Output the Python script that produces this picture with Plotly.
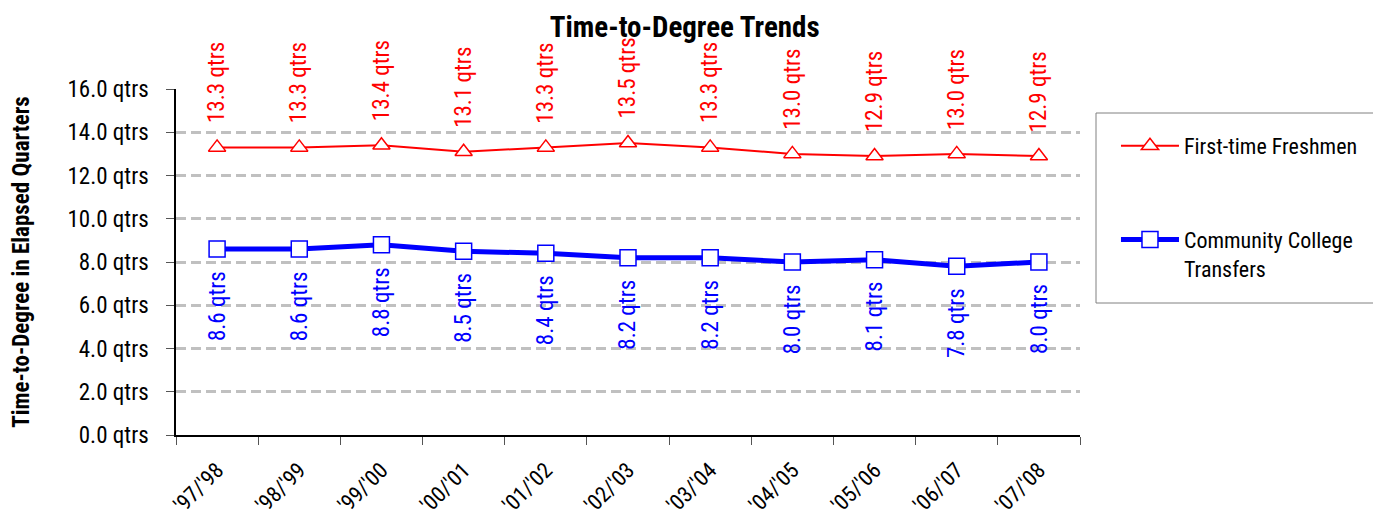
import plotly.graph_objects as go

years = ["'97/'98", "'98/'99", "'99/'00", "'00/'01", "'01/'02", "'02/'03",
         "'03/'04", "'04/'05", "'05/'06", "'06/'07", "'07/'08"]
freshmen = [13.3, 13.3, 13.4, 13.1, 13.3, 13.5, 13.3, 13.0, 12.9, 13.0, 12.9]
transfers = [8.6, 8.6, 8.8, 8.5, 8.4, 8.2, 8.2, 8.0, 8.1, 7.8, 8.0]
ytick_vals = [0, 2, 4, 6, 8, 10, 12, 14, 16]
ytick_text = [f"{v:.1f} qtrs" for v in ytick_vals]

FONT = "Liberation Sans Narrow, Arial Narrow, Roboto Condensed, sans-serif"
RED = "#FF0000"
BLUE = "#0000FF"

fig = go.Figure()
fig.add_trace(go.Scatter(
    x=years, y=freshmen, name="First-time Freshmen", mode="lines+markers",
    line=dict(color=RED, width=2),
    marker=dict(symbol="triangle-up", size=15, color="white",
                line=dict(color=RED, width=1.5)),
    legendgroup="a",
))
fig.add_trace(go.Scatter(
    x=years, y=transfers, name="Community College<br>Transfers", mode="lines+markers",
    line=dict(color=BLUE, width=5),
    marker=dict(symbol="square", size=16, color="white",
                line=dict(color=BLUE, width=1.5)),
    legendgroup="b",
))

annotations = []
for x, v in zip(years, freshmen):
    annotations.append(dict(x=x, y=v, xref="x", yref="y", text=f"{v:.1f} qtrs",
                            textangle=-90, showarrow=False, yanchor="bottom",
                            yshift=22, font=dict(family=FONT, size=23, color=RED)))
for x, v in zip(years, transfers):
    annotations.append(dict(x=x, y=v, xref="x", yref="y", text=f"{v:.1f} qtrs",
                            textangle=-90, showarrow=False, yanchor="top",
                            yshift=-20, font=dict(family=FONT, size=23, color=BLUE)))

fig.update_layout(
    width=1381, height=516,
    margin=dict(l=168, r=309, t=81, b=89, autoexpand=False),
    paper_bgcolor="white", plot_bgcolor="white",
    font=dict(family=FONT, size=23, color="black"),
    title=dict(text="<b>Time-to-Degree Trends</b>", x=0.49, xref="container",
               xanchor="center",
               y=0.984, yref="container", yanchor="top",
               font=dict(family=FONT, size=29, color="black"), automargin=False),
    showlegend=True,
    legend=dict(x=1.0398, y=0.896, xanchor="left", yanchor="top",
                borderwidth=0, bgcolor="rgba(0,0,0,0)",
                font=dict(family=FONT, size=22, color="black"),
                tracegroupgap=62, itemwidth=58, valign="top"),
    annotations=annotations,
    shapes=[dict(type="rect", xref="paper", yref="paper",
                 x0=1.0177, x1=1.3319, y0=0.3815, y1=0.9306,
                 line=dict(color="#808080", width=1), fillcolor="rgba(0,0,0,0)")],
)
fig.update_xaxes(
    type="category", range=[-0.5, len(years) - 0.5],
    tickson="boundaries", ticks="outside", ticklen=8,
    tickcolor="#555555", showline=True, linecolor="black", linewidth=1.5,
    showgrid=False, tickangle=-45, tickfont=dict(family=FONT, size=22),
    ticklabelstandoff=12, automargin=False,
)
fig.update_yaxes(
    range=[0, 16], tickvals=ytick_vals, ticktext=ytick_text,
    ticks="outside", ticklen=8, tickcolor="#555555",
    showline=True, linecolor="black", linewidth=1.5,
    showgrid=True, gridcolor="#C0C0C0", griddash="10px,5px", gridwidth=2.5,
    zeroline=False, tickfont=dict(family=FONT, size=23),
    ticklabelstandoff=13, automargin=False,
    title=dict(text="<b>Time-to-Degree in Elapsed Quarters</b>",
               font=dict(family=FONT, size=23), standoff=31),
)

fig.write_html("out.html")
